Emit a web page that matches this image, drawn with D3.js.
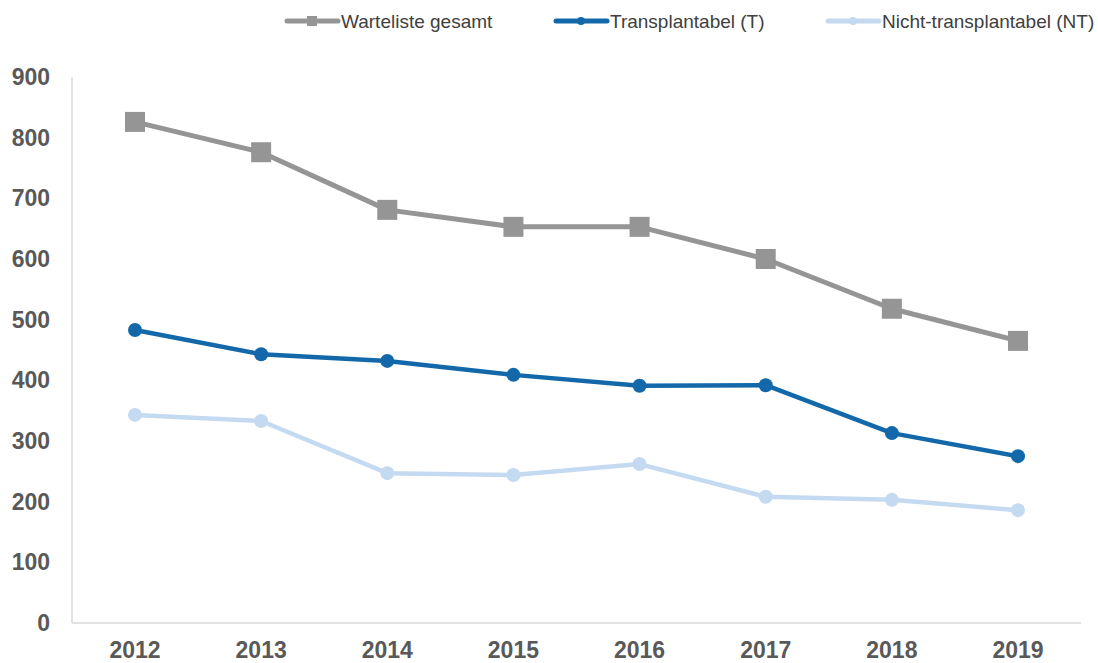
<!DOCTYPE html>
<html>
<head>
<meta charset="utf-8">
<script src="https://cdn.jsdelivr.net/npm/d3@7"></script>
<style>
  body { margin: 0; background: #fff; }
  svg { font-family: "Liberation Sans", Arial, sans-serif; }
</style>
</head>
<body>
<div id="chart"></div>
<script>
const years = ["2012", "2013", "2014", "2015", "2016", "2017", "2018", "2019"];
const gesamt = [826, 776, 681, 653, 653, 600, 518, 465];
const transplantabel = [483, 443, 432, 409, 391, 392, 313, 275];
const nichtTransplantabel = [343, 333, 247, 244, 262, 208, 203, 186];
const yTicks = [0, 100, 200, 300, 400, 500, 600, 700, 800, 900];

const series = [
  { name: "Warteliste gesamt", values: gesamt, color: "#959595", width: 5, marker: "square" },
  { name: "Transplantabel (T)", values: transplantabel, color: "#1368aa", width: 4.5, marker: "circle" },
  { name: "Nicht-transplantabel (NT)", values: nichtTransplantabel, color: "#c4daf0", width: 4.5, marker: "circle" },
];

const width = 1098, height = 663;
const margin = { top: 77, right: 17, bottom: 40, left: 72 };

const svg = d3.select("#chart").append("svg")
  .attr("width", width)
  .attr("height", height);

const x = d3.scalePoint().domain(years)
  .range([135, 1018]);

const y = d3.scaleLinear().domain([0, 900])
  .range([height - margin.bottom, margin.top]);

// axis lines
svg.append("line")
  .attr("x1", margin.left).attr("x2", margin.left)
  .attr("y1", y(900)).attr("y2", y(0))
  .attr("stroke", "#d9d9d9").attr("stroke-width", 1.5);
svg.append("line")
  .attr("x1", margin.left).attr("x2", width - margin.right)
  .attr("y1", y(0)).attr("y2", y(0))
  .attr("stroke", "#d9d9d9").attr("stroke-width", 1.5);

// y tick labels
svg.append("g").selectAll("text").data(yTicks).join("text")
  .attr("x", 50)
  .attr("y", (d) => y(d))
  .attr("dy", "0.35em")
  .attr("text-anchor", "end")
  .style("font-size", "23px")
  .style("font-weight", "bold")
  .style("fill", "#595959")
  .text((d) => d);

// x tick labels
svg.append("g").selectAll("text").data(years).join("text")
  .attr("x", (d) => x(d))
  .attr("y", y(0) + 27)
  .attr("dy", "0.35em")
  .attr("text-anchor", "middle")
  .style("font-size", "23px")
  .style("font-weight", "bold")
  .style("fill", "#595959")
  .text((d) => d);

const line = d3.line()
  .x((d, i) => x(years[i]))
  .y((d) => y(d));

series.forEach((s) => {
  const g = svg.append("g");
  g.append("path")
    .datum(s.values)
    .attr("fill", "none")
    .attr("stroke", s.color)
    .attr("stroke-width", s.width)
    .attr("stroke-linejoin", "round")
    .attr("d", line);
  if (s.marker === "square") {
    g.selectAll("rect").data(s.values).join("rect")
      .attr("x", (d, i) => x(years[i]) - 10)
      .attr("y", (d) => y(d) - 10)
      .attr("width", 20).attr("height", 20)
      .attr("fill", s.color);
  } else {
    g.selectAll("circle").data(s.values).join("circle")
      .attr("cx", (d, i) => x(years[i]))
      .attr("cy", (d) => y(d))
      .attr("r", 7)
      .attr("fill", s.color);
  }
});

// legend
const legendX = [287, 556, 828];
const legend = svg.append("g");
series.forEach((s, i) => {
  const lx = legendX[i], ly = 21;
  legend.append("line")
    .attr("x1", lx).attr("x2", lx + 51)
    .attr("y1", ly).attr("y2", ly)
    .attr("stroke", s.color).attr("stroke-width", 5)
    .attr("stroke-linecap", "round");
  if (s.marker === "square") {
    legend.append("rect")
      .attr("x", lx + 25 - 5).attr("y", ly - 5)
      .attr("width", 10).attr("height", 10)
      .attr("fill", s.color);
  } else {
    legend.append("circle")
      .attr("cx", lx + 25).attr("cy", ly).attr("r", 4)
      .attr("fill", s.color);
  }
  legend.append("text")
    .attr("x", lx + 54)
    .attr("y", ly)
    .attr("dy", "0.35em")
    .style("font-size", "19px")
    .style("fill", "#404040")
    .text(s.name);
});
</script>
</body>
</html>
